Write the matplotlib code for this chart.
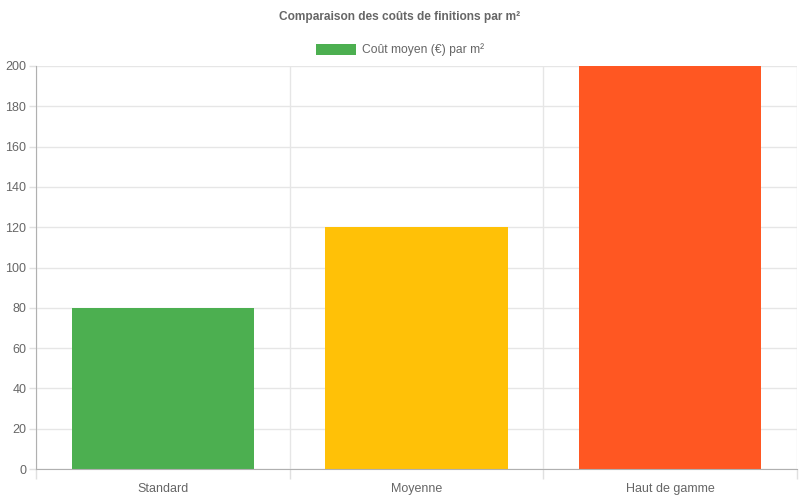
import matplotlib.pyplot as plt
from matplotlib.patches import Rectangle

categories = ["Standard", "Moyenne", "Haut de gamme"]
values = [80, 120, 200]
colors = ["#4CAF50", "#FFC107", "#FF5722"]
yticks = [0, 20, 40, 60, 80, 100, 120, 140, 160, 180, 200]

plt.rcParams['font.family'] = ['Liberation Sans', 'DejaVu Sans']

fig = plt.figure(figsize=(8, 5), dpi=100)
fig.set_facecolor("white")
ax = fig.add_axes([36/800, 31/500, 761/800, 403/500])

x = list(range(len(categories)))
ax.bar(x, values, width=0.72, color=colors, zorder=2)
ax.set_xlim(-0.5, len(categories) - 0.5)
ax.set_ylim(0, 200)
ax.set_yticks(yticks)
ax.set_yticklabels([str(t) for t in yticks], color="#666666", fontsize=9)

# category labels centred, grid on boundaries
ax.set_xticks(x)
ax.set_xticklabels(categories, color="#666666", fontsize=9, va='center')
ax.tick_params(axis='x', length=0, pad=14.5)
ax.set_xticks([i - 0.5 for i in range(len(categories) + 1)], minor=True)
ax.tick_params(axis='x', which='minor', length=7, color="#e0e0e0", width=1)
ax.tick_params(axis='y', length=5, color="#e0e0e0", width=1, pad=2)
ax.grid(True, which='minor', axis='x', color="#e6e6e6", linewidth=1, zorder=0)
ax.grid(True, which='major', axis='y', color="#e6e6e6", linewidth=1, zorder=0)

for s in ['top', 'right']:
    ax.spines[s].set_visible(False)
ax.spines['left'].set_color("#b0b0b0")
ax.spines['bottom'].set_color("#b0b0b0")

fig.text(0.5, 1 - 17/500, "Comparaison des coûts de finitions par m²",
         ha='center', va='center', fontsize=8.6, fontweight='bold', color="#666666")
fig.patches.append(Rectangle((316/800, 1 - 55/500), 40/800, 11/500,
                             transform=fig.transFigure, facecolor="#4CAF50",
                             edgecolor="none"))
fig.text(362/800, 1 - 49.5/500, "Coût moyen (€) par m²", ha='left', va='center',
         fontsize=8.7, color="#666666")

fig.savefig("out.png", dpi=100)
